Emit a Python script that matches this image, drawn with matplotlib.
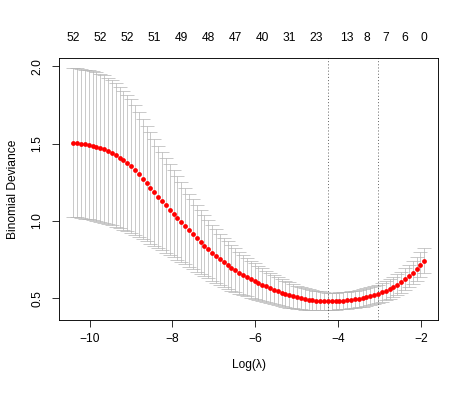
import numpy as np
import matplotlib
matplotlib.use('Agg')
import matplotlib.pyplot as plt

plt.rcParams['font.family'] = ['Liberation Sans', 'DejaVu Sans']

# log(lambda) path
log_lambda = [-10.390, -10.297, -10.204, -10.111, -10.018, -9.925, -9.832, -9.739,
              -9.646, -9.553, -9.460, -9.367, -9.274, -9.181, -9.088, -8.995,
              -8.902, -8.809, -8.716, -8.623, -8.530, -8.437, -8.344, -8.251,
              -8.158, -8.065, -7.972, -7.879, -7.786, -7.693, -7.600, -7.507,
              -7.414, -7.321, -7.228, -7.135, -7.042, -6.949, -6.856, -6.763,
              -6.670, -6.577, -6.484, -6.391, -6.298, -6.205, -6.112, -6.019,
              -5.926, -5.833, -5.740, -5.647, -5.554, -5.461, -5.368, -5.275,
              -5.182, -5.089, -4.996, -4.903, -4.810, -4.717, -4.624, -4.531,
              -4.438, -4.345, -4.252, -4.159, -4.066, -3.973, -3.880, -3.787,
              -3.694, -3.601, -3.508, -3.415, -3.322, -3.229, -3.136, -3.043,
              -2.950, -2.857, -2.764, -2.671, -2.578, -2.485, -2.392, -2.299,
              -2.206, -2.113, -2.020, -1.927]

# mean cv binomial deviance
cvm = [1.508, 1.505, 1.5015, 1.4975, 1.493, 1.488, 1.482, 1.475,
       1.466, 1.455, 1.442, 1.427, 1.410, 1.393, 1.375, 1.355,
       1.331, 1.302, 1.272, 1.243, 1.214, 1.185, 1.157, 1.129,
       1.101, 1.074, 1.047, 1.020, 0.993, 0.966, 0.940, 0.914,
       0.889, 0.864, 0.8405, 0.8175, 0.795, 0.7735, 0.753, 0.7335,
       0.715, 0.6975, 0.681, 0.6655, 0.651, 0.6373, 0.6243, 0.6119,
       0.600, 0.5886, 0.5775, 0.5668, 0.5565, 0.5467, 0.5374, 0.5287,
       0.5207, 0.5134, 0.5068, 0.5010, 0.4960, 0.4918, 0.4884, 0.4857,
       0.4837, 0.4823, 0.4815, 0.4817, 0.4823, 0.4834, 0.4850, 0.4871,
       0.4898, 0.4931, 0.4971, 0.5018, 0.5073, 0.5136, 0.5210, 0.5292,
       0.5384, 0.5488, 0.5606, 0.5739, 0.5888, 0.6055, 0.6241, 0.6447,
       0.6672, 0.6912, 0.7167, 0.7437]

# standard error of cv deviance
cvsd = [0.482, 0.482, 0.482, 0.481, 0.481, 0.480, 0.479, 0.478,
        0.476, 0.473, 0.469, 0.464, 0.458, 0.451, 0.442, 0.432,
        0.420, 0.405, 0.390, 0.375, 0.360, 0.345, 0.331, 0.318,
        0.305, 0.292, 0.280, 0.269, 0.258, 0.247, 0.236, 0.226,
        0.216, 0.206, 0.197, 0.188, 0.180, 0.173, 0.166, 0.160,
        0.154, 0.148, 0.142, 0.136, 0.130, 0.125, 0.120, 0.115,
        0.110, 0.106, 0.102, 0.098, 0.094, 0.091, 0.088, 0.085,
        0.082, 0.079, 0.076, 0.073, 0.070, 0.0675, 0.065, 0.063,
        0.061, 0.0585, 0.056, 0.0555, 0.0552, 0.0550, 0.0550, 0.0550,
        0.0551, 0.0553, 0.0556, 0.0560, 0.0565, 0.0571, 0.0578, 0.0586,
        0.0595, 0.0610, 0.0625, 0.0640, 0.0660, 0.0680, 0.0700, 0.0725,
        0.0750, 0.0775, 0.0800, 0.0825]

# number of nonzero coefficients shown on top axis
top_idx = [0, 7, 14, 21, 28, 35, 42, 49, 56, 63, 71, 76, 81, 86, 91]
top_labels = ['52', '52', '52', '51', '49', '48', '47', '40', '31', '23',
              '13', '8', '7', '6', '0']

x = np.array(log_lambda)
m = np.array(cvm)
sd = np.array(cvsd)
up = m + sd
lo = m - sd

# lambda.min and lambda.1se
i_min = int(np.argmin(m))
i_1se = int(np.max(np.where(m <= m[i_min] + sd[i_min])[0]))

fig = plt.figure(figsize=(6.5, 395 / 72.0), dpi=72)
ax = fig.add_axes([59.3 / 468, 1 - 320.0 / 395, (438.3 - 59.3) / 468, (320.0 - 58.3) / 395])

barw = 0.02 * (x.max() - x.min())
bar_col = '#b4b4b4'
ax.vlines(x, lo, up, color=bar_col, lw=0.7)
ax.hlines(up, x - barw, x + barw, color=bar_col, lw=0.7)
ax.hlines(lo, x - barw, x + barw, color=bar_col, lw=0.7)
ax.plot(x, m, 'o', color='red', markersize=4.8, markeredgewidth=0, zorder=3)

ax.axvline(x[i_min], color='#333333', lw=0.7, linestyle=(0, (1.5, 3)))
ax.axvline(x[i_1se], color='#333333', lw=0.7, linestyle=(0, (1.5, 3)))

xr = x.max() - x.min()
yr = up.max() - lo.min()
ax.set_xlim(x.min() - 0.04 * xr, x.max() + 0.04 * xr)
ax.set_ylim(lo.min() - 0.04 * yr, up.max() + 0.04 * yr)

ax.set_xticks([-10, -8, -6, -4, -2])
ax.set_yticks([0.5, 1.0, 1.5, 2.0])
ax.set_yticklabels(['0.5', '1.0', '1.5', '2.0'], rotation=90, va='center')
ax.tick_params(direction='out', length=7, width=0.8, labelsize=12, pad=6)
ax.tick_params(axis='y', pad=9)
for s in ax.spines.values():
    s.set_linewidth(0.9)

top = ax.secondary_xaxis('top')
top.set_xticks(x[top_idx])
top.set_xticklabels(top_labels)
top.tick_params(length=0, labelsize=12, pad=14)
top.spines['top'].set_visible(False)

ax.set_xlabel('Log(\u03bb)', fontsize=12, labelpad=14)
ax.set_ylabel('Binomial Deviance', fontsize=12, labelpad=12)

fig.savefig('out.png', dpi=72)
